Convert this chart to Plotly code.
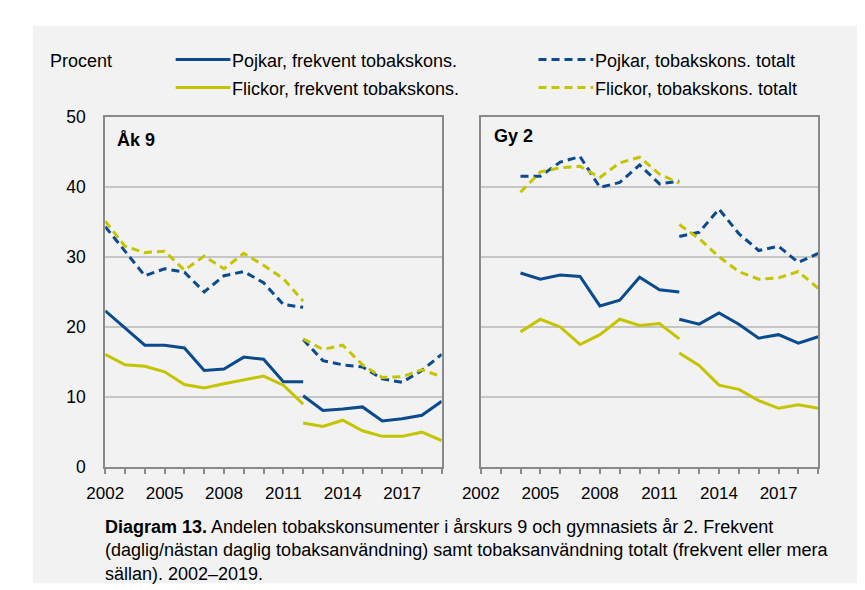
import plotly.graph_objects as go

# =========================
# DATA
# =========================
years_old = list(range(2002, 2013))   # 2002-2012, old survey method
years_new = list(range(2012, 2020))   # 2012-2019, new survey method
gy_old = list(range(2004, 2013))

# Åk 9
ak9_pojk_frek_old = [22.3, 19.8, 17.4, 17.4, 17.0, 13.8, 14.0, 15.7, 15.4, 12.2, 12.2]
ak9_pojk_frek_new = [10.2, 8.1, 8.3, 8.6, 6.6, 6.9, 7.4, 9.4]
ak9_flick_frek_old = [16.1, 14.6, 14.4, 13.6, 11.8, 11.3, 11.9, 12.5, 13.0, 11.7, 9.0]
ak9_flick_frek_new = [6.3, 5.8, 6.7, 5.2, 4.4, 4.4, 5.0, 3.8]
ak9_pojk_tot_old = [34.3, 30.8, 27.3, 28.3, 27.8, 25.0, 27.3, 27.9, 26.3, 23.2, 22.8]
ak9_pojk_tot_new = [18.2, 15.2, 14.6, 14.3, 12.6, 12.1, 13.8, 16.1]
ak9_flick_tot_old = [35.1, 31.5, 30.6, 30.8, 28.1, 30.1, 28.3, 30.5, 28.8, 26.9, 23.7]
ak9_flick_tot_new = [18.3, 16.8, 17.4, 14.6, 12.8, 12.9, 13.9, 12.9]

# Gy 2
gy2_pojk_frek_old = [27.7, 26.8, 27.4, 27.2, 23.0, 23.8, 27.1, 25.3, 25.0]
gy2_pojk_frek_new = [21.1, 20.4, 22.0, 20.4, 18.4, 18.9, 17.7, 18.6]
gy2_flick_frek_old = [19.3, 21.1, 20.0, 17.5, 18.9, 21.1, 20.2, 20.5, 18.3]
gy2_flick_frek_new = [16.3, 14.5, 11.7, 11.1, 9.5, 8.4, 8.9, 8.4]
gy2_pojk_tot_old = [41.5, 41.5, 43.5, 44.3, 39.9, 40.6, 43.1, 40.4, 40.8]
gy2_pojk_tot_new = [32.9, 33.5, 36.8, 33.3, 30.9, 31.5, 29.2, 30.5]
gy2_flick_tot_old = [39.2, 42.1, 42.7, 42.9, 41.3, 43.4, 44.2, 41.8, 40.5]
gy2_flick_tot_new = [34.6, 32.6, 30.0, 27.9, 26.8, 27.0, 27.9, 25.5]

x_tick_labels = [2002, 2005, 2008, 2011, 2014, 2017]

BLUE = '#0b4a8c'
YELLOW = '#c4c400'
DASH = '8px,5px'
FONT = 'Liberation Sans, Arial, sans-serif'
W, H = 865, 590

series = {
    'Pojkar, frekvent tobakskons.': (BLUE, 'solid'),
    'Pojkar, tobakskons. totalt': (BLUE, DASH),
    'Flickor, frekvent tobakskons.': (YELLOW, 'solid'),
    'Flickor, tobakskons. totalt': (YELLOW, DASH),
}

panels = [
    ('x', 'y', years_old, {
        'Pojkar, frekvent tobakskons.': (ak9_pojk_frek_old, ak9_pojk_frek_new),
        'Pojkar, tobakskons. totalt': (ak9_pojk_tot_old, ak9_pojk_tot_new),
        'Flickor, frekvent tobakskons.': (ak9_flick_frek_old, ak9_flick_frek_new),
        'Flickor, tobakskons. totalt': (ak9_flick_tot_old, ak9_flick_tot_new),
    }),
    ('x2', 'y2', gy_old, {
        'Pojkar, frekvent tobakskons.': (gy2_pojk_frek_old, gy2_pojk_frek_new),
        'Pojkar, tobakskons. totalt': (gy2_pojk_tot_old, gy2_pojk_tot_new),
        'Flickor, frekvent tobakskons.': (gy2_flick_frek_old, gy2_flick_frek_new),
        'Flickor, tobakskons. totalt': (gy2_flick_tot_old, gy2_flick_tot_new),
    }),
]

fig = go.Figure()

# draw order: totals first, then frequent
order = ['Pojkar, tobakskons. totalt', 'Flickor, tobakskons. totalt',
         'Pojkar, frekvent tobakskons.', 'Flickor, frekvent tobakskons.']

for xa, ya, yrs_old, data in panels:
    for name in order:
        color, dash = series[name]
        old, new = data[name]
        for xs, ys in [(yrs_old, old), (years_new, new)]:
            fig.add_trace(go.Scatter(
                x=xs, y=ys, mode='lines', name=name, showlegend=False,
                line=dict(color=color, width=3, dash=dash),
                xaxis=xa, yaxis=ya, hoverinfo='skip'
            ))


def px_x(p):
    return p / W


def px_y(p):
    return 1 - p / H


axis_common = dict(
    range=[2002, 2019],
    showgrid=False,
    showline=True, linecolor='#8a8a8a', linewidth=2, mirror=True,
    tickvals=x_tick_labels,
    ticks='outside', ticklen=5, tickwidth=1.5, tickcolor='#8a8a8a',
    minor=dict(dtick=1, tick0=2002, ticks='outside', ticklen=5,
               tickwidth=1.5, tickcolor='#8a8a8a', showgrid=False),
    tickfont=dict(size=17, color='#000'),
    ticklabelstandoff=4,
    zeroline=False,
)
yaxis_common = dict(
    range=[0, 50], dtick=10,
    showgrid=True, gridcolor='#c6c6c6', gridwidth=1.5,
    showline=True, linecolor='#8a8a8a', linewidth=2, mirror=True,
    ticks='', zeroline=False,
    domain=[px_y(465), px_y(102)],
    tickfont=dict(size=17.5, color='#000'),
)

fig.update_layout(
    width=W, height=H,
    margin=dict(l=0, r=0, t=0, b=0),
    paper_bgcolor='white',
    plot_bgcolor='white',
    font=dict(family=FONT, color='#000'),
    xaxis=dict(axis_common, domain=[px_x(80), px_x(424)], anchor='y'),
    xaxis2=dict(axis_common, domain=[px_x(464), px_x(809)], anchor='y2'),
    yaxis=dict(yaxis_common, anchor='x', ticklabelstandoff=14),
    yaxis2=dict(yaxis_common, anchor='x2', showticklabels=False),
)

# gray background panel
shapes = [dict(type='rect', xref='paper', yref='paper', layer='below',
               x0=px_x(6), x1=1, y0=px_y(585), y1=px_y(8),
               fillcolor='#f2f2f2', line=dict(width=0))]

# manual legend (2 x 2)
legend_pos = {
    'Pojkar, frekvent tobakskons.': (152, 43),
    'Pojkar, tobakskons. totalt': (523, 43),
    'Flickor, frekvent tobakskons.': (152, 72),
    'Flickor, tobakskons. totalt': (523, 72),
}
annotations = [dict(text='Procent', x=px_x(21), y=px_y(44), xref='paper', yref='paper',
                    xanchor='left', yanchor='middle', showarrow=False,
                    font=dict(size=18))]
for name, (lx, ly) in legend_pos.items():
    color, dash = series[name]
    shapes.append(dict(type='line', xref='paper', yref='paper',
                       x0=px_x(lx), x1=px_x(lx + 56), y0=px_y(ly), y1=px_y(ly),
                       line=dict(color=color, width=3, dash=dash)))
    annotations.append(dict(text=name, x=px_x(lx + 56), y=px_y(ly + 1),
                            xref='paper', yref='paper', xanchor='left',
                            yanchor='middle', showarrow=False, font=dict(size=18)))

# panel titles
annotations.append(dict(text='<b>Åk 9</b>', x=px_x(90), y=px_y(126), xref='paper',
                        yref='paper', xanchor='left', yanchor='middle',
                        showarrow=False, font=dict(size=18)))
annotations.append(dict(text='<b>Gy 2</b>', x=px_x(475), y=px_y(122), xref='paper',
                        yref='paper', xanchor='left', yanchor='middle',
                        showarrow=False, font=dict(size=18)))

# caption
annotations.append(dict(
    text='<b>Diagram 13.</b> Andelen tobakskonsumenter i årskurs 9 och gymnasiets år 2. Frekvent<br>'
         '(daglig/nästan daglig tobaksanvändning) samt tobaksanvändning totalt (frekvent eller mera<br>'
         'sällan). 2002–2019.',
    x=px_x(78), y=px_y(514), xref='paper', yref='paper', xanchor='left', yanchor='top',
    align='left', showarrow=False, font=dict(size=18)))

fig.update_layout(shapes=shapes, annotations=annotations)

fig.write_html("out.html")
